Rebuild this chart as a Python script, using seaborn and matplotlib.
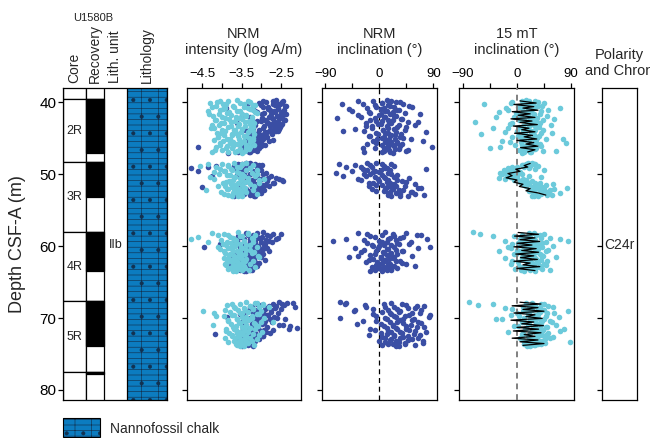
import numpy as np
import pandas as pd
import matplotlib
matplotlib.use("Agg")
import matplotlib.pyplot as plt
from matplotlib.patches import Rectangle
from matplotlib.ticker import FixedLocator
import seaborn as sns

sns.set_theme(style="ticks")
plt.rcParams["font.family"] = ["Liberation Sans", "DejaVu Sans"]
plt.rcParams["hatch.linewidth"] = 0.45

# ---------------------------------------------------------------- core log
core_names = ["1R", "2R", "3R", "4R", "5R", "6R"]
core_top = [30.0, 39.6, 48.3, 58.0, 67.7, 77.5]
core_bottom = [39.6, 48.3, 58.0, 67.7, 77.5, 87.2]
rec_top = [39.6, 48.3, 58.0, 67.7, 77.5]
rec_bottom = [47.1, 53.15, 63.5, 73.85, 77.8]
lith_unit = "IIb"
lith_name = "Nannofossil chalk"
chron = "C24r"

# ---------------------------------------------------------------- 2R
depth_2r = [39.70, 39.82, 39.94, 40.06, 40.18, 40.30, 40.42, 40.54, 40.66, 40.78,
            40.90, 41.02, 41.14, 41.26, 41.38, 41.50, 41.62, 41.74, 41.86, 41.98,
            42.10, 42.22, 42.34, 42.46, 42.58, 42.70, 42.82, 42.94, 43.06, 43.18,
            43.30, 43.42, 43.54, 43.66, 43.78, 43.90, 44.02, 44.14, 44.26, 44.38,
            44.50, 44.62, 44.74, 44.86, 44.98, 45.10, 45.22, 45.34, 45.46, 45.58,
            45.70, 45.82, 45.94, 46.06, 46.18, 46.30, 46.42, 46.54, 46.66, 46.78,
            46.90, 47.02]
nrm_int_2r = [-2.62, -2.95, -2.48, -3.35, -2.71, -2.55, -3.02, -2.40, -2.83, -3.90,
              -2.58, -2.77, -3.15, -2.45, -2.66, -2.92, -2.38, -3.48, -2.60, -2.80,
              -2.52, -2.99, -2.70, -2.43, -3.10, -2.86, -2.57, -3.62, -2.74, -2.49,
              -2.93, -2.65, -3.20, -2.55, -2.78, -3.05, -2.62, -2.90, -3.30, -2.72,
              -3.08, -2.95, -3.25, -2.85, -3.15, -3.00, -3.40, -2.80, -3.18, -3.05,
              -3.22, -2.98, -3.35, -3.12, -4.62, -3.28, -3.05, -3.55, -3.20, -3.45,
              -3.30, -3.85]
mt15_int_2r = [-3.62, -4.05, -3.28, -4.30, -3.45, -3.90, -3.15, -4.15, -3.70, -3.35,
               -3.98, -3.22, -4.35, -3.55, -3.82, -3.12, -4.08, -3.40, -4.22, -3.65,
               -3.25, -3.92, -3.50, -4.18, -3.32, -3.78, -3.18, -4.02, -3.58, -4.25,
               -3.42, -3.85, -4.28, -3.30, -3.68, -4.00, -3.20, -3.52, -4.12, -3.75,
               -3.95, -3.38, -3.60, -4.10, -3.22, -3.80, -4.20, -3.45, -3.72, -3.28,
               -4.05, -3.55, -3.18, -3.88, -4.15, -3.40, -3.75, -3.32, -4.00, -3.62,
               -4.25, -3.48]
nrm_inc_2r = [12, -35, 28, 5, -62, 40, -8, 18, 55, -20,
              3, 33, -45, 10, 22, -15, 68, 0, 25, -30,
              8, -70, 36, 15, -5, 48, -22, 20, 2, 60,
              -12, 30, 14, -40, 6, 42, -25, 78, 10, -3,
              26, 18, -18, 35, 4, 52, 12, -10, 30, 20,
              -6, 38, 15, 24, 87, 8, -28, 32, 16, 45,
              5, 22]
mt15_inc_2r = [15, 30, -8, 45, 22, -55, 10, 35, 5, 72,
               25, -15, 18, 40, -30, 12, 28, 0, 50, 20,
               -5, 33, 62, 8, 26, -70, 16, 38, -12, 22,
               30, 4, -40, 18, 44, 10, 24, -20, 58, 14,
               28, 2, 36, -8, 20, 48, 12, -25, 32, 6,
               82, 18, -3, 40, 24, 10, -45, 30, 15, 65,
               22, 8]
# second pass, offset measurement positions
depth_2r_b = [39.76, 39.88, 40.00, 40.12, 40.24, 40.36, 40.48, 40.60, 40.72, 40.84,
              40.96, 41.08, 41.20, 41.32, 41.44, 41.56, 41.68, 41.80, 41.92, 42.04,
              42.16, 42.28, 42.40, 42.52, 42.64, 42.76, 42.88, 43.00, 43.12, 43.24,
              43.36, 43.48, 43.60, 43.72, 43.84, 43.96, 44.08, 44.20, 44.32, 44.44,
              44.56, 44.68, 44.80, 44.92, 45.04, 45.16, 45.28, 45.40, 45.52, 45.64,
              45.76, 45.88, 46.00, 46.12, 46.24, 46.36, 46.48, 46.60, 46.72, 46.84,
              46.96]
nrm_int_2r_b = [-2.70, -2.45, -2.88, -3.05, -2.52, -2.64, -2.36, -2.95, -3.20, -2.58,
                -2.82, -2.42, -2.68, -3.10, -2.50, -2.76, -2.98, -2.44, -2.60, -3.28,
                -2.72, -2.55, -2.90, -2.40, -3.00, -2.66, -2.84, -2.48, -3.15, -2.62,
                -2.78, -2.53, -2.96, -2.68, -3.42, -2.58, -2.86, -2.74, -3.08, -2.92,
                -3.02, -3.22, -2.88, -3.35, -2.95, -3.12, -2.70, -3.28, -3.05, -3.45,
                -3.15, -2.90, -3.30, -3.00, -3.50, -3.18, -3.25, -3.38, -3.10, -3.32,
                -3.60]
mt15_int_2r_b = [-3.85, -3.35, -4.12, -3.55, -3.98, -3.20, -3.72, -4.25, -3.45, -3.92,
                 -3.28, -4.05, -3.62, -3.15, -3.88, -3.50, -4.32, -3.78, -3.38, -4.00,
                 -3.58, -3.82, -3.25, -4.15, -3.68, -3.42, -3.95, -3.30, -4.08, -3.60,
                 -3.78, -3.22, -4.20, -3.48, -3.70, -3.92, -3.35, -4.02, -3.65, -3.18,
                 -3.75, -3.45, -4.10, -3.32, -3.88, -3.58, -3.22, -3.98, -3.50, -3.80,
                 -3.62, -4.05, -3.38, -3.72, -3.28, -3.90, -3.55, -4.18, -3.42, -3.85,
                 -3.68]
nrm_inc_2r_b = [20, -10, 35, 4, -28, 15, 50, -5, 25, 8,
                -50, 30, 12, -18, 42, 2, 18, -35, 28, 10,
                -8, 38, 22, -15, 5, 65, 16, -2, 32, -22,
                12, 45, -12, 24, 6, -60, 28, 14, -6, 36,
                20, -15, 8, 40, 26, -4, 16, 72, 10, 30,
                -20, 22, 4, 34, 14, -8, 26, 48, 8, 18,
                -25]
mt15_inc_2r_b = [20, 8, 35, -10, 26, 14, 42, 2, 30, -18,
                 18, 52, 10, 24, -2, 38, 16, 6, 28, -35,
                 22, 12, 44, 4, 32, 18, -8, 26, 56, 10,
                 20, 36, -15, 14, 30, 0, 24, 40, 12, -60,
                 28, 16, 6, 34, 22, 76, 10, 30, -12, 20,
                 38, 8, 26, 14, -28, 32, 18, 4, 44, 24,
                 12]

# ---------------------------------------------------------------- 3R
depth_3r = [48.40, 48.52, 48.64, 48.76, 48.88, 49.00, 49.12, 49.24, 49.36, 49.48,
            49.60, 49.72, 49.84, 49.96, 50.08, 50.20, 50.32, 50.44, 50.56, 50.68,
            50.80, 50.92, 51.04, 51.16, 51.28, 51.40, 51.52, 51.64, 51.76, 51.88,
            52.00, 52.12, 52.24, 52.36, 52.48, 52.60, 52.72, 52.84, 52.96, 53.08]
nrm_int_3r = [-3.40, -3.15, -3.60, -3.05, -4.15, -3.30, -4.80, -3.52, -3.00, -3.38,
              -4.60, -3.20, -3.45, -2.95, -3.62, -4.25, -3.10, -3.35, -2.82, -2.55,
              -3.25, -2.45, -3.05, -2.70, -3.48, -3.12, -2.90, -3.55, -4.50, -3.02,
              -3.18, -3.40, -2.98, -3.60, -3.22, -3.08, -3.45, -3.30, -3.70, -3.15]
mt15_int_3r = [-3.70, -4.35, -3.50, -3.85, -4.55, -3.62, -3.28, -4.05, -3.75, -3.40,
               -3.92, -4.20, -3.58, -3.10, -3.80, -3.45, -3.68, -4.30, -3.55, -2.92,
               -3.72, -3.35, -3.90, -3.60, -3.05, -3.78, -3.50, -4.10, -3.65, -3.42,
               -3.85, -3.58, -4.40, -3.70, -3.48, -3.62, -3.95, -3.55, -3.75, -3.60]
nrm_inc_3r = [-5, 20, -68, -15, 8, -30, 12, 78, -20, 2,
              -45, -10, 15, -25, 5, -60, 24, -8, 10, -35,
              30, 0, 45, -18, 18, 60, -5, 28, 12, 70,
              22, -12, 40, 8, 55, 15, 35, 75, 20, 48]
mt15_inc_3r = [25, 15, 30, 10, 35, 0, 20, -5, 45, -12,
               -20, 5, -8, -25, 0, -15, 40, -10, -30, 10,
               -5, 15, 5, 30, 20, 60, 12, 35, 25, 83,
               45, 30, 55, 20, 40, 72, 28, 50, 35, 25]
depth_3r_b = [48.46, 48.58, 48.70, 48.82, 48.94, 49.06, 49.18, 49.30, 49.42, 49.54,
              49.66, 49.78, 49.90, 50.02, 50.14, 50.26, 50.38, 50.50, 50.62, 50.74,
              50.86, 50.98, 51.10, 51.22, 51.34, 51.46, 51.58, 51.70, 51.82, 51.94,
              52.06, 52.18, 52.30, 52.42, 52.54, 52.66, 52.78, 52.90, 53.02]
nrm_int_3r_b = [-3.28, -3.50, -2.98, -3.70, -3.12, -4.35, -3.40, -3.05, -3.62, -3.22,
                -3.45, -2.88, -3.30, -3.55, -3.10, -2.75, -3.38, -2.62, -3.00, -2.48,
                -3.20, -2.85, -3.42, -2.68, -3.15, -2.95, -3.58, -2.80, -3.25, -3.05,
                -3.48, -2.92, -3.35, -3.10, -3.62, -3.00, -3.28, -3.52, -3.18]
mt15_int_3r_b = [-3.40, -4.00, -3.20, -3.85, -3.55, -4.15, -3.30, -3.78, -3.10, -3.95,
                 -3.62, -3.25, -4.08, -3.48, -3.88, -3.15, -3.70, -3.35, -4.20, -3.52,
                 -3.05, -3.82, -3.42, -3.98, -3.28, -3.68, -3.92, -3.18, -3.75, -3.45,
                 -3.88, -3.22, -3.60, -4.02, -3.38, -3.72, -3.12, -3.85, -3.50]
nrm_inc_3r_b = [-20, 5, -40, 25, -12, -55, 10, -28, 18, -8,
                0, -72, 20, -15, 30, -22, 8, 50, -3, 15,
                -30, 38, 12, -10, 25, 4, 42, -18, 20, 65,
                10, 32, -5, 52, 18, 28, 60, 14, 35]
mt15_inc_3r_b = [18, 28, 8, 22, -8, 12, -15, 30, -22, 2,
                 -10, -28, 8, -18, -5, 20, -12, 0, -20, 15,
                 2, 25, 10, 38, 18, 48, 28, 15, 42, 32,
                 62, 38, 24, 52, 45, 30, 40, 58, 28]

# ---------------------------------------------------------------- 4R
depth_4r = [58.10, 58.22, 58.34, 58.46, 58.58, 58.70, 58.82, 58.94, 59.06, 59.18,
            59.30, 59.42, 59.54, 59.66, 59.78, 59.90, 60.02, 60.14, 60.26, 60.38,
            60.50, 60.62, 60.74, 60.86, 60.98, 61.10, 61.22, 61.34, 61.46, 61.58,
            61.70, 61.82, 61.94, 62.06, 62.18, 62.30, 62.42, 62.54, 62.66, 62.78,
            62.90, 63.02, 63.14, 63.26, 63.38, 63.50]
nrm_int_4r = [-2.95, -3.40, -2.50, -3.20, -2.78, -3.55, -3.05, -2.62, -3.30, -2.88,
              -3.62, -2.72, -3.15, -4.05, -2.92, -3.45, -3.08, -4.45, -2.85, -3.25,
              -3.50, -2.80, -3.38, -3.10, -3.70, -2.95, -3.28, -3.55, -3.00, -3.42,
              -3.18, -3.65, -2.90, -3.35, -3.50, -3.05, -3.80, -3.22, -3.40, -3.12,
              -3.60, -3.30, -3.45, -3.25, -3.55, -3.38]
mt15_int_4r = [-3.60, -4.25, -3.35, -3.85, -3.50, -4.60, -3.72, -3.20, -4.80, -3.65,
               -3.45, -4.35, -3.78, -3.55, -3.90, -3.30, -3.68, -4.10, -3.52, -3.75,
               -3.40, -3.62, -3.95, -3.55, -3.25, -3.80, -3.48, -3.70, -3.58, -3.05,
               -3.85, -3.50, -3.66, -3.42, -3.75, -3.60, -3.92, -3.52, -3.70, -3.45,
               -3.62, -3.80, -3.55, -3.68, -3.48, -3.72]
nrm_inc_4r = [10, 45, -20, 62, 25, -8, 35, 80, 15, -25,
              -78, 5, 30, 50, -12, 20, 0, 85, -40, 12,
              28, -5, 40, -30, 8, 18, -15, 55, 2, -50,
              22, -10, 10, 35, -22, 4, 14, 45, -6, 60,
              8, -2, 20, 12, -8, 5]
mt15_inc_4r = [-74, 20, -62, 38, -40, 15, 55, 5, 72, 25,
               85, 10, 42, -8, 30, 18, 60, -15, 22, 35,
               0, 48, -30, 12, 28, -5, 40, 20, 65, 8,
               -20, 32, 15, 50, 2, 25, 45, -10, 18, 38,
               10, 30, -3, 22, 55, 12]
depth_4r_b = [58.16, 58.28, 58.40, 58.52, 58.64, 58.76, 58.88, 59.00, 59.12, 59.24,
              59.36, 59.48, 59.60, 59.72, 59.84, 59.96, 60.08, 60.20, 60.32, 60.44,
              60.56, 60.68, 60.80, 60.92, 61.04, 61.16, 61.28, 61.40, 61.52, 61.64,
              61.76, 61.88, 62.00, 62.12, 62.24, 62.36, 62.48, 62.60, 62.72, 62.84,
              62.96, 63.08, 63.20, 63.32, 63.44]
nrm_int_4r_b = [-3.10, -2.70, -3.35, -2.85, -3.60, -2.98, -2.58, -3.45, -3.15, -2.80,
                -3.28, -3.00, -3.70, -2.90, -3.40, -3.18, -3.55, -3.05, -3.32, -2.95,
                -3.48, -3.15, -3.62, -3.02, -3.38, -3.25, -3.75, -3.10, -3.45, -3.30,
                -3.55, -3.20, -3.40, -3.65, -3.15, -3.48, -3.28, -3.58, -3.35, -3.22,
                -3.50, -3.40, -3.62, -3.30, -3.45]
mt15_int_4r_b = [-3.35, -3.95, -3.15, -4.10, -3.55, -3.80, -3.25, -3.70, -4.02, -3.45,
                 -3.88, -3.20, -3.65, -3.98, -3.40, -3.75, -3.10, -3.85, -3.50, -4.05,
                 -3.30, -3.72, -3.18, -3.92, -3.58, -3.42, -3.82, -3.08, -3.68, -3.95,
                 -3.38, -3.78, -3.22, -3.62, -3.88, -3.48, -3.28, -3.90, -3.55, -3.15,
                 -3.75, -3.42, -3.85, -3.32, -3.65]
nrm_inc_4r_b = [-35, 22, 70, 5, -15, 40, 18, -55, 28, 0,
                52, 12, -20, 32, 8, -10, 25, 65, -2, 15,
                -25, 38, 6, 20, -8, 30, 12, -35, 24, 2,
                16, -18, 28, 10, -4, 38, 18, 0, 25, -12,
                14, 30, 2, 20, -15]
mt15_inc_4r_b = [28, 45, 8, 32, -5, 22, 40, 12, 30, -20,
                 18, 48, 2, 35, 25, 10, 42, -10, 28, 15,
                 52, 5, 34, 20, 38, -2, 26, 44, 14, 30,
                 8, 40, 22, -8, 35, 16, 28, 48, 4, 24,
                 36, 18, 42, 6, 30]

# ---------------------------------------------------------------- 5R
depth_5r = [67.80, 67.92, 68.04, 68.16, 68.28, 68.40, 68.52, 68.64, 68.76, 68.88,
            69.00, 69.12, 69.24, 69.36, 69.48, 69.60, 69.72, 69.84, 69.96, 70.08,
            70.20, 70.32, 70.44, 70.56, 70.68, 70.80, 70.92, 71.04, 71.16, 71.28,
            71.40, 71.52, 71.64, 71.76, 71.88, 72.00, 72.12, 72.24, 72.36, 72.48,
            72.60, 72.72, 72.84, 72.96, 73.08, 73.20, 73.32, 73.44, 73.56, 73.68,
            73.80, 73.92]
nrm_int_5r = [-2.55, -2.20, -3.10, -2.42, -2.80, -2.15, -3.30, -2.65, -2.90, -3.05,
              -3.40, -2.75, -3.20, -2.95, -3.55, -2.85, -3.00, -3.88, -2.60, -3.15,
              -2.78, -3.35, -3.05, -3.50, -2.92, -3.25, -2.45, -3.10, -2.28, -3.40,
              -2.10, -3.20, -2.70, -3.00, -3.45, -2.88, -3.15, -4.18, -3.00, -2.95,
              -3.30, -3.60, -3.10, -3.50, -3.25, -3.38, -3.18, -3.45, -3.30, -3.55,
              -3.35, -3.20]
mt15_int_5r = [-3.40, -3.15, -3.55, -2.95, -3.30, -3.70, -2.80, -3.45, -3.20, -3.60,
               -4.48, -3.35, -4.20, -3.50, -3.05, -3.75, -4.15, -3.40, -3.25, -3.62,
               -3.30, -3.85, -3.45, -2.70, -3.55, -3.15, -4.22, -3.38, -3.65, -3.50,
               -3.28, -3.70, -3.42, -3.90, -3.55, -3.35, -3.62, -3.48, -3.75, -3.40,
               -3.58, -3.30, -3.68, -3.45, -3.52, -3.38, -3.60, -3.42, -3.55, -3.50,
               -3.62, -3.45]
nrm_inc_5r = [-66, 20, -58, 45, 75, -22, 10, 60, 30, -40,
              35, 5, 68, 18, -10, 50, 25, 82, -65, 40,
              12, 55, -5, 30, 70, -38, 22, 45, 8, 62,
              28, -15, 50, 15, 78, 35, 2, 58, -18, 25,
              40, 10, 65, 20, 48, 0, 32, 72, 15, 42,
              5, 28]
mt15_inc_5r = [-80, 25, 45, -65, 30, 10, 60, -20, 40, 15,
               85, 20, 50, 0, 35, -10, 28, 70, 12, 45,
               -35, 22, 55, 8, 38, 18, 65, -5, 30, 48,
               15, 78, 25, 40, -15, 32, 52, 10, 42, 20,
               60, 28, 5, 46, 35, 18, 88, 25, 40, 12,
               30, 22]
depth_5r_b = [67.86, 67.98, 68.10, 68.22, 68.34, 68.46, 68.58, 68.70, 68.82, 68.94,
              69.06, 69.18, 69.30, 69.42, 69.54, 69.66, 69.78, 69.90, 70.02, 70.14,
              70.26, 70.38, 70.50, 70.62, 70.74, 70.86, 70.98, 71.10, 71.22, 71.34,
              71.46, 71.58, 71.70, 71.82, 71.94, 72.06, 72.18, 72.30, 72.42, 72.54,
              72.66, 72.78, 72.90, 73.02, 73.14, 73.26, 73.38, 73.50, 73.62, 73.74,
              73.86]
nrm_int_5r_b = [-2.35, -2.70, -2.48, -3.00, -2.62, -3.25, -2.88, -2.50, -3.10, -2.75,
                -3.35, -2.95, -2.58, -3.18, -2.82, -3.45, -3.05, -2.68, -3.28, -2.40,
                -3.12, -2.90, -3.50, -2.72, -3.20, -2.98, -2.55, -3.38, -2.85, -3.08,
                -2.30, -3.25, -2.92, -3.48, -3.02, -2.78, -3.30, -3.15, -3.55, -2.95,
                -3.40, -3.22, -3.05, -3.62, -3.30, -3.15, -3.48, -3.28, -3.40, -3.20,
                -3.50]
mt15_int_5r_b = [-3.10, -3.75, -2.95, -3.88, -3.30, -3.05, -3.68, -3.20, -3.92, -3.42,
                 -3.00, -3.80, -3.55, -3.12, -3.70, -3.25, -3.95, -3.48, -2.92, -3.62,
                 -3.35, -3.85, -3.02, -3.58, -3.18, -3.78, -3.40, -3.08, -3.72, -3.28,
                 -3.90, -3.15, -3.65, -3.45, -2.98, -3.82, -3.22, -3.60, -3.05, -3.75,
                 -3.38, -3.92, -3.12, -3.52, -3.70, -3.25, -3.85, -3.35, -3.65, -3.18,
                 -3.55]
nrm_inc_5r_b = [-55, 8, 38, -24, 62, 25, 48, -10, 70, 15,
                -42, 32, 55, 20, 85, -5, 42, 28, 10, 58,
                35, -28, 18, 65, 40, 2, 52, 22, 75, 12,
                45, 30, -8, 60, 20, 38, 12, 68, 25, 48,
                5, 35, 55, 18, 72, 28, 10, 42, 22, 60,
                32]
mt15_inc_5r_b = [15, 40, -40, 28, 52, 20, 35, -8, 45, 25,
                 10, 38, 62, 18, 30, 4, 48, 22, 35, -25,
                 28, 42, 12, 58, 32, 20, 40, 2, 50, 26,
                 36, 14, 44, 72, 30, 22, 8, 38, 48, 18,
                 32, 55, 26, 10, 42, 30, 20, 46, 35, 28,
                 16]

# ---------------------------------------------------------------- discrete 15 mT inclination trace
line_depth_2r = [39.8, 40.1, 40.3, 40.6, 40.8, 41.1, 41.3, 41.6, 41.8, 42.1,
                 42.3, 42.6, 42.8, 43.1, 43.3, 43.6, 43.8, 44.1, 44.3, 44.6,
                 44.8, 45.1, 45.3, 45.6, 45.8, 46.1, 46.3, 46.6, 46.9]
line_inc_2r = [5, 32, -5, 28, 10, 35, -8, 22, 2, 30,
               -10, 25, 5, 34, -6, 20, 8, 30, -4, 26,
               12, 33, 0, 28, 15, 35, 6, 30, 18]
line_depth_3r = [48.5, 48.8, 49.0, 49.3, 49.6, 49.9, 50.2, 50.5, 50.8, 51.1,
                 51.4, 51.7, 52.0, 52.3, 52.6, 52.9]
line_inc_3r = [22, 12, 18, -2, 5, -15, -8, -18, 0, -5, 10, 4, 22, 15, 35, 48]
line_depth_4r = [58.1, 58.35, 58.6, 58.85, 59.1, 59.35, 59.6, 59.85, 60.1, 60.35,
                 60.6, 60.85, 61.1, 61.35, 61.6, 61.85, 62.1, 62.35, 62.6, 62.85,
                 63.1, 63.4]
line_inc_4r = [2, 36, -4, 30, 5, 38, 0, 25, -5, 32,
               8, 36, -2, 28, 6, 34, -5, 22, 10, 38, 0, 30]
line_depth_5r = [67.8, 68.05, 68.3, 68.55, 68.8, 69.05, 69.3, 69.55, 69.8, 70.05,
                 70.3, 70.55, 70.8, 71.05, 71.3, 71.55, 71.8, 72.05, 72.3, 72.55,
                 72.8, 73.05, 73.3, 73.55, 73.8]
line_inc_5r = [5, 40, -8, 35, 10, 45, -5, 30, 15, 42,
               -10, 28, 8, 44, 0, 36, -6, 40, 12, 30,
               -8, 35, 5, 45, 10]

# ---------------------------------------------------------------- tables
passes = [
    ("2R", depth_2r, nrm_int_2r, mt15_int_2r, nrm_inc_2r, mt15_inc_2r),
    ("2R", depth_2r_b, nrm_int_2r_b, mt15_int_2r_b, nrm_inc_2r_b, mt15_inc_2r_b),
    ("3R", depth_3r, nrm_int_3r, mt15_int_3r, nrm_inc_3r, mt15_inc_3r),
    ("3R", depth_3r_b, nrm_int_3r_b, mt15_int_3r_b, nrm_inc_3r_b, mt15_inc_3r_b),
    ("4R", depth_4r, nrm_int_4r, mt15_int_4r, nrm_inc_4r, mt15_inc_4r),
    ("4R", depth_4r_b, nrm_int_4r_b, mt15_int_4r_b, nrm_inc_4r_b, mt15_inc_4r_b),
    ("5R", depth_5r, nrm_int_5r, mt15_int_5r, nrm_inc_5r, mt15_inc_5r),
    ("5R", depth_5r_b, nrm_int_5r_b, mt15_int_5r_b, nrm_inc_5r_b, mt15_inc_5r_b),
]
pmag = pd.concat(
    [pd.DataFrame({"core": c, "depth": d, "nrm_int": ni, "mt15_int": mi,
                   "nrm_inc": nc, "mt15_inc": mc}) for c, d, ni, mi, nc, mc in passes],
    ignore_index=True)
traces = {"2R": (line_depth_2r, line_inc_2r), "3R": (line_depth_3r, line_inc_3r),
          "4R": (line_depth_4r, line_inc_4r), "5R": (line_depth_5r, line_inc_5r)}
trace = pd.concat([pd.DataFrame({"core": k, "depth": d, "inc": i})
                   for k, (d, i) in traces.items()], ignore_index=True)

# ---------------------------------------------------------------- styling
DARK = "#3a4ea4"
LIGHT = "#6ccadb"
CHALK = "#0c7cc0"
HATCH_INK = "#123150"
FS_TICK = 9.5
DOT = 16
YLIM = (81.4, 38.05)
W, H = 650, 438

fig = plt.figure(figsize=(W / 100, H / 100), dpi=100)


def panel(left, top, right, bottom):
    return fig.add_axes([left / W, 1 - bottom / H, (right - left) / W, (bottom - top) / H])


strip = panel(63.3, 88.3, 166.7, 400)
ax_int = panel(186.7, 88.3, 301, 400)
ax_nrm = panel(322.3, 88.3, 437, 400)
ax_15 = panel(459.3, 88.3, 574.3, 400)
ax_pol = panel(602.3, 88.3, 636.7, 400)

for ax in (strip, ax_int, ax_nrm, ax_15, ax_pol):
    ax.set_ylim(*YLIM)
    ax.yaxis.set_major_locator(FixedLocator([40, 50, 60, 70, 80]))
    ax.tick_params(axis="y", which="both", left=True, length=3.6, width=0.9,
                   labelleft=False, colors="black")
    for s in ax.spines.values():
        s.set_visible(True)
        s.set_linewidth(0.9)
        s.set_color("black")
    ax.set_facecolor("white")

# ---- lithostratigraphic strip (x in column units)
c_core, c_rec, c_unit, c_lith = (0, 22.4), (22.4, 41.0), (41.0, 63.4), (63.4, 103.4)
strip.set_xlim(0, 103.4)
strip.set_xticks([])
strip.tick_params(axis="y", labelleft=True, labelsize=11, pad=1.5)

heights = [b - t for t, b in zip(core_top, core_bottom)]
strip.bar(np.mean(c_core), heights, bottom=core_top, width=c_core[1] - c_core[0],
          color="white", edgecolor="black", linewidth=0.9)
strip.bar(np.mean(c_rec), heights, bottom=core_top, width=c_rec[1] - c_rec[0],
          color="white", edgecolor="black", linewidth=0.9)
strip.bar(np.mean(c_rec), [b - t for t, b in zip(rec_top, rec_bottom)], bottom=rec_top,
          width=c_rec[1] - c_rec[0], color="black", edgecolor="black", linewidth=0.9)
strip.bar(np.mean(c_lith), 60, bottom=30, width=c_lith[1] - c_lith[0],
          color=CHALK, edgecolor=HATCH_INK, linewidth=0, hatch="---|.")
strip.bar(np.mean(c_lith), 60, bottom=30, width=c_lith[1] - c_lith[0],
          fill=False, edgecolor="black", linewidth=0.9)

for name, t, b in zip(core_names, core_top, core_bottom):
    mid = (t + b) / 2
    if YLIM[1] < mid < YLIM[0]:
        strip.text(np.mean(c_core), mid, name, ha="center", va="center",
                   fontsize=9, color="#222222")
strip.text(np.mean(c_unit), 59.8, lith_unit, ha="center", va="center",
           fontsize=9, color="#222222")

hdr = strip.get_xaxis_transform()
for label, cols in (("Core", c_core), ("Recovery", c_rec),
                    ("Lith. unit", c_unit), ("Lithology", c_lith)):
    strip.text(np.mean(cols), 1.017, label, transform=hdr, rotation=90,
               ha="center", va="bottom", fontsize=10)
fig.text(93 / W, 1 - 18 / H, "U1580B", ha="center", va="center", fontsize=8)
fig.text(18 / W, 1 - 244 / H, "Depth CSF-A (m)", rotation=90,
         ha="center", va="center", fontsize=13)

# ---- NRM intensity
sns.scatterplot(data=pmag, x="nrm_int", y="depth", ax=ax_int, color=DARK,
                s=DOT, linewidth=0, legend=False, zorder=2)
sns.scatterplot(data=pmag, x="mt15_int", y="depth", ax=ax_int, color=LIGHT,
                s=DOT, linewidth=0, legend=False, zorder=3)
ax_int.set_xlim(-4.9, -1.99)
ax_int.xaxis.set_major_locator(FixedLocator([-4.5, -3.5, -2.5]))
ax_int.xaxis.set_minor_locator(FixedLocator([-4.0, -3.0]))

# ---- NRM inclination
ax_nrm.axvline(0, color="black", lw=0.9, ls=(0, (4, 3)), zorder=1)
sns.scatterplot(data=pmag, x="nrm_inc", y="depth", ax=ax_nrm, color=DARK,
                s=DOT, linewidth=0, legend=False, zorder=2)
ax_nrm.set_xlim(-95, 96)

# ---- 15 mT inclination
sns.scatterplot(data=pmag, x="mt15_inc", y="depth", ax=ax_15, color=LIGHT,
                s=DOT, linewidth=0, legend=False, zorder=2)
ax_15.axvline(0, color="#808080", lw=1.4, ls=(0, (3, 2.5)), zorder=3)
sns.lineplot(data=trace, x="inc", y="depth", units="core", estimator=None,
             sort=False, ax=ax_15, color="black", lw=0.9, legend=False, zorder=4)
ax_15.set_xlim(-96, 95.5)

for ax in (ax_nrm, ax_15):
    ax.xaxis.set_major_locator(FixedLocator([-90, 0, 90]))
    ax.xaxis.set_minor_locator(FixedLocator([-45, 45]))

for ax in (ax_int, ax_nrm, ax_15):
    ax.set_xlabel("")
    ax.set_ylabel("")
    ax.tick_params(axis="x", which="both", top=True, bottom=False, labeltop=True,
                   labelbottom=False, length=3.6, width=0.9, labelsize=FS_TICK,
                   pad=2.5, colors="black")

# ---- polarity
ax_pol.set_xticks([])
ax_pol.set_xlim(0, 1)
ax_pol.text(0.5, 59.8, chron, ha="center", va="center", fontsize=10)

# ---- column titles (the last one runs past the right edge of the figure)
titles = [(243.9, "NRM\nintensity (log A/m)", 57),
          (379.6, "NRM\ninclination (°)", 57),
          (516.8, "15 mT\ninclination (°)", 57),
          (619.5, "Polarity\nand Chron", 78)]
for xc, txt, ybot in titles:
    fig.text(xc / W, 1 - ybot / H, txt, ha="center", va="bottom",
             fontsize=10.5, linespacing=1.2)

# ---- lithology key
fig.add_artist(Rectangle((63.3 / W, 1 - 437 / H), 37 / W, 19 / H, transform=fig.transFigure,
                         facecolor=CHALK, edgecolor=HATCH_INK, linewidth=0, hatch="---|."))
fig.add_artist(Rectangle((63.3 / W, 1 - 437 / H), 37 / W, 19 / H, transform=fig.transFigure,
                         fill=False, edgecolor="black", linewidth=0.8))
fig.text(110 / W, 1 - 429 / H, lith_name, ha="left", va="center", fontsize=10)

fig.savefig("out.png", dpi=100)
